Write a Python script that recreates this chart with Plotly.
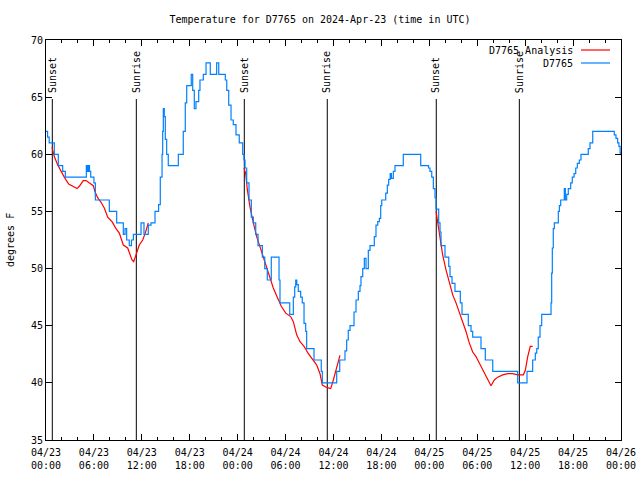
import pandas as pd
import plotly.graph_objects as go

BASE = pd.Timestamp("2024-04-23 00:00")

# Observed station temperatures (hours since 04/23 00:00 UTC, degrees F)
obs_hours = [0.0, 0.2, 0.4, 1.04, 1.54, 2.09, 2.42, 5.05, 5.2, 5.3, 5.45, 5.6, 6.0, 6.18,
             7.93, 8.85, 9.68, 9.9, 10.1, 10.43, 10.7, 10.94, 11.9, 12.27, 12.81, 13.15,
             13.65, 14.1, 14.31, 14.53, 14.61, 14.69, 14.81, 14.94, 15.11, 15.31, 16.57,
             17.19, 17.44, 17.62, 18.19, 18.37, 18.57, 18.78, 19.12, 19.28, 19.7, 20.04,
             20.57, 21.37, 21.63, 22.45, 22.63, 22.88, 23.17, 23.45, 23.79, 24.2, 24.63,
             24.79, 24.92, 25.13, 25.42, 25.71, 25.96, 26.26, 26.55, 27.09, 27.39, 27.71,
             28.21, 29.18, 29.3, 30.52, 30.97, 31.14, 31.27, 31.4, 31.59, 31.89, 32.09,
             32.31, 32.52, 32.64, 33.56, 34.47, 34.6, 36.4, 36.78, 37.44, 37.65, 37.85,
             38.07, 38.57, 38.82, 39.11, 39.32, 39.44, 39.66, 39.86, 40.07, 40.36, 40.57,
             41.11, 41.32, 41.54, 41.74, 41.91, 42.04, 42.54, 42.74, 42.91, 43.1, 43.25,
             43.49, 43.7, 44.74, 46.92, 47.9, 48.08, 48.3, 48.5, 48.71, 48.84, 49.17,
             49.34, 49.46, 49.96, 50.43, 50.59, 50.84, 51.21, 51.88, 52.09, 52.88, 53.22,
             53.43, 54.47, 55.01, 55.94, 59.06, 60.23, 60.94, 61.27, 61.45, 61.64, 61.86,
             62.07, 63.24, 63.32, 63.4, 63.52, 63.65, 64.15, 64.28, 64.45, 64.9, 65.03,
             65.2, 65.4, 65.7, 65.9, 66.12, 66.33, 66.53, 66.78, 66.99, 67.9, 68.12,
             68.46, 71.16, 71.37, 71.58, 71.74, 71.89, 72.0]
obs_temps = [62, 61.5, 61, 60, 59, 58.5, 58, 59, 58.5, 59, 58.5, 58, 57.5, 56,
             55, 54, 53, 53.5, 52.5, 52, 52.5, 53, 54, 53, 53.8, 54,
             55, 55.6, 58, 60, 62, 64, 63.3, 61.3, 60, 59, 60,
             62, 64.5, 66, 67, 65.6, 64, 64.6, 65.6, 66.5, 67, 68,
             67, 68, 67, 66.5, 65.6, 64.3, 63, 62.6, 61.7, 61, 60,
             59.5, 58.8, 57.5, 56, 54.5, 54, 53, 52, 51, 50, 49,
             51, 49, 47, 46, 47.5, 48.4, 49, 48.6, 48, 47.5, 47,
             45.2, 44.5, 43, 42, 41, 40, 41, 42, 42.8, 43.75, 44.6,
             45, 46.2, 47.25, 48, 48.5, 49.3, 50, 50.9, 50.0, 51.6, 52,
             52.8, 53.8, 54.1, 54.4, 55.5, 56, 56.6, 57.3, 57.8, 58.3, 57.9,
             58.5, 59, 60, 59, 58.8, 58.5, 58, 57, 56.2, 55.2, 54,
             53.2, 52, 51, 50.2, 49.3, 48.7, 48, 47, 46, 45, 44.5,
             44, 43, 42, 41, 40, 41, 42, 42.6, 43, 44, 45,
             46, 47, 49.6, 51.8, 53.5, 54, 55, 55.5, 56, 57, 56,
             56.5, 57, 57.5, 58, 58.3, 58.8, 59.2, 59.5, 60, 60.5, 61,
             62, 61.7, 61.4, 61, 60.7, 60.1, 60]

# Overnight analysis (three segments, None = gap)
ana_hours = [0.75, 1.04, 1.47, 1.88, 2.29, 2.84, 3.34, 3.88, 4.17, 4.67, 5.01, 5.42, 5.92,
             6.14, 6.47, 6.89, 7.3, 7.73, 8.26, 8.77, 9.18, 9.68, 10.23, 10.77, 10.98,
             11.27, 11.68, 12.11, 12.43, 12.81,
             18.0,
             24.79, 25.01, 25.21, 25.54, 25.96, 26.38, 26.8, 27.21, 27.64, 28.05, 28.46,
             28.96, 29.46, 30.02, 30.64, 30.97, 31.39, 31.81, 32.31, 32.81, 33.35, 33.9,
             34.31, 34.6, 35.15, 35.65, 35.98, 36.4, 36.81,
             42.0,
             48.84, 49.05, 49.34, 49.67, 50.08, 50.5, 50.93, 51.34, 51.75, 52.18, 52.59,
             53.0, 53.43, 53.84, 54.26, 54.68, 55.1, 55.43, 55.72, 56.14, 56.56, 57.19,
             57.81, 58.44, 59.06, 59.77, 60.02, 60.32, 60.64, 60.94]
ana_temps = [60.6, 59.8, 59.06, 58.5, 58.0, 57.4, 57.2, 57.0, 57.2, 57.7, 57.7, 57.5, 57.25,
             56.7, 56.2, 55.8, 55.3, 54.5, 54.1, 53.5, 53.1, 52.06, 51.8, 50.75, 50.6,
             51.2, 52.06, 52.5, 53.1, 54.0,
             None,
             58.8, 58.3, 56.9, 55.4, 54.0, 52.8, 51.9, 51.04, 50.0, 49.3, 48.3,
             47.5, 46.7, 46.1, 45.8, 45.35, 44.2, 43.6, 43.2, 42.6, 42.06, 41.56,
             40.8, 39.8, 39.6, 39.5, 40.25, 41.3, 42.4,
             None,
             55.0, 54.0, 52.5, 51.2, 49.9, 48.7, 47.7, 47.0, 46.2, 45.35, 44.5,
             43.5, 42.7, 42.3, 41.7, 41.1, 40.5, 40.1, 39.75, 40.25, 40.5, 40.7,
             40.8, 40.8, 40.7, 40.7, 41.1, 42.3, 43.2, 43.2]

# Sun events (hours since start)
event_hours = [0.79, 11.31, 24.83, 35.22, 48.87, 59.27]
event_labels = ["Sunset", "Sunrise", "Sunset", "Sunrise", "Sunset", "Sunrise"]

series_names = ["D7765 Analysis", "D7765"]
series_colors = ["#ff0000", "#0080ff"]

TITLE = "Temperature for D7765 on 2024-Apr-23 (time in UTC)"
YTITLE = "degrees F"

def to_time(hours):
    return [BASE + pd.Timedelta(hours=h) for h in hours]

FONT = "DejaVu Sans Mono"

fig = go.Figure()
fig.add_trace(go.Scatter(x=to_time(ana_hours), y=ana_temps, mode="lines",
                         name=series_names[0], connectgaps=False,
                         line=dict(color=series_colors[0], width=1.2)))
fig.add_trace(go.Scatter(x=to_time(obs_hours), y=obs_temps, mode="lines",
                         name=series_names[1], line_shape="hv",
                         line=dict(color=series_colors[1], width=1.2)))

for h, lab in zip(event_hours, event_labels):
    t = BASE + pd.Timedelta(hours=h)
    fig.add_shape(type="line", xref="x", yref="paper", x0=t, x1=t, y0=0, y1=0.8525,
                  line=dict(color="black", width=1), layer="below")
    fig.add_annotation(x=t, xref="x", y=0.863, yref="paper", text=lab, textangle=-90,
                       showarrow=False, xanchor="center", yanchor="bottom",
                       font=dict(family=FONT, size=10, color="black"))

# gnuplot-style legend (text left of sample line)
leg_y = [0.975, 0.9425]
for name, col, yy in zip(series_names, series_colors, leg_y):
    fig.add_annotation(x=0.92, xref="paper", y=yy, yref="paper", text=name,
                       showarrow=False, xanchor="right", yanchor="middle",
                       font=dict(family=FONT, size=10, color="black"))
    fig.add_shape(type="line", xref="paper", yref="paper", x0=0.9304, x1=0.9809,
                  y0=yy, y1=yy, line=dict(color=col, width=1.2))

fig.add_annotation(x=-0.0626, xref="paper", y=0.5, yref="paper", text=YTITLE,
                   textangle=-90, showarrow=False, xanchor="center", yanchor="middle",
                   font=dict(family=FONT, size=10, color="black"))

fig.update_layout(
    width=640, height=480,
    margin=dict(l=46, r=19, t=40, b=40, autoexpand=False),
    paper_bgcolor="white", plot_bgcolor="white",
    showlegend=False,
    font=dict(family=FONT, size=10, color="black"),
    title=dict(text=TITLE, x=0.5, xref="container", xanchor="center",
               y=1 - 19 / 480, yref="container", yanchor="middle",
               font=dict(family=FONT, size=10, color="black")),
)
fig.update_xaxes(
    type="date", automargin=False,
    range=[BASE, BASE + pd.Timedelta(hours=72)],
    dtick=6 * 3600 * 1000, tick0=BASE,
    tickformat="%m/%d<br>%H:%M",
    ticks="inside", ticklen=6, tickcolor="black", tickwidth=1,
    ticklabelstandoff=3,
    minor=dict(dtick=2 * 3600 * 1000, ticks="inside", ticklen=3, tickcolor="black"),
    showline=True, linecolor="black", linewidth=1, mirror="ticks",
    showgrid=False, zeroline=False,
    tickfont=dict(family=FONT, size=10, color="black"),
)
fig.update_yaxes(
    range=[35, 70], dtick=5, tick0=35, automargin=False,
    ticks="inside", ticklen=6, tickcolor="black", tickwidth=1,
    showline=True, linecolor="black", linewidth=1, mirror="ticks",
    showgrid=False, zeroline=False,
    tickfont=dict(family=FONT, size=10, color="black"),
)

fig.write_html("out.html",
               config={"displayModeBar": False},
               post_script="document.body.style.margin='0';document.body.style.overflow='hidden';")
